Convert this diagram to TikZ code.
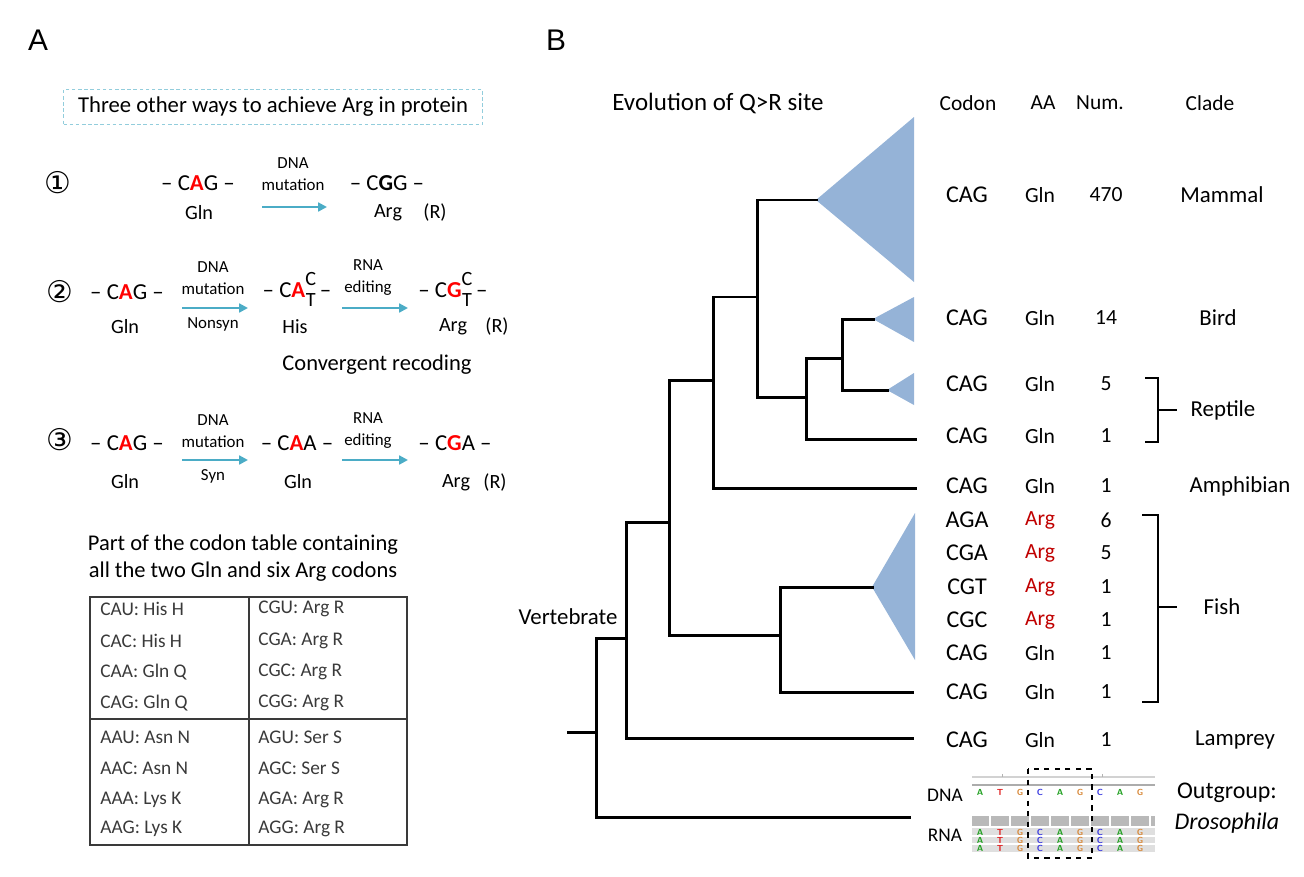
\documentclass[tikz,border=0pt]{standalone}
\usepackage{fontspec}
\setmainfont{Carlito}
\newfontfamily\circfont{DejaVu Sans}
\newfontfamily\panelfont{Liberation Sans}
\usetikzlibrary{arrows.meta}

\definecolor{triblue}{HTML}{95B3D7}
\definecolor{arrteal}{HTML}{4BACC6}
\definecolor{boxteal}{HTML}{92CDDC}
\definecolor{argred}{HTML}{C00000}
\definecolor{tabgray}{HTML}{3A3A3A}
\definecolor{baseA}{HTML}{22A022}
\definecolor{baseT}{HTML}{E02020}
\definecolor{baseG}{HTML}{D8893A}
\definecolor{baseC}{HTML}{3A3AE0}

\newcommand{\redA}{\textcolor{red}{\textbf{A}}}
\newcommand{\redG}{\textcolor{red}{\textbf{G}}}
\newcommand{\stackCT}{{\fontsize{11.5}{11.5}\selectfont\begin{tabular}{@{}c@{}}C\\T\end{tabular}}}

\tikzset{
  panel/.style={font=\panelfont\fontsize{17}{17}\selectfont},
  circnum/.style={font=\circfont\fontsize{17}{17}\selectfont},
  codon/.style={font=\fontsize{13}{13}\selectfont, inner sep=0pt},
  aa/.style={font=\fontsize{11.5}{12}\selectfont, inner sep=0pt},
  how/.style={font=\fontsize{9.6}{12.5}\selectfont, align=center, inner sep=0pt},
  mutarrow/.style={draw=arrteal, line width=1.2pt, -{Triangle[length=5pt,width=5pt]}},
  tabtext/.style={font=\fontsize{11}{12}\selectfont, text=tabgray, anchor=west, inner sep=0pt},
  tabline/.style={draw=tabgray, line width=0.8pt},
  branch/.style={line width=1.7pt, line cap=rect},
  tip/.style={fill=triblue, draw=none},
  codcell/.style={font=\fontsize{13.7}{14}\selectfont, inner sep=0pt},
  cell/.style={font=\fontsize{12.3}{13}\selectfont, inner sep=0pt},
  head/.style={font=\fontsize{12.2}{13}\selectfont, inner sep=0pt},
  clade/.style={font=\fontsize{13}{14}\selectfont, inner sep=0pt},
  brace/.style={line width=0.9pt},
  base/.style={font=\sffamily\bfseries\fontsize{5}{5}\selectfont, inner sep=0pt},
}

\begin{document}
\begin{tikzpicture}[x=0.02cm, y=-0.02cm]
\useasboundingbox (0,0) rectangle (1304,876);

% ---------- panel A ----------
\node[panel] (labA) at (38,40) {A};
\node[draw=boxteal, dash pattern=on 2pt off 1.5pt, line width=0.6pt,
      minimum width=8.38cm, minimum height=0.7cm, font=\fontsize{12.9}{13}\selectfont]
      (ways) at (273,107) {Three other ways to achieve Arg in protein};

% way 1
\node[circnum] (n1) at (58,183) {①};
\node[codon] (c1a) at (198,183) {-- C\redA G --};
\node[aa] (g1a) at (199,213) {Gln};
\node[how] (m1) at (293,174) {DNA\\mutation};
\coordinate (a1s) at (262,207);
\coordinate (a1e) at (327,207);
\draw[mutarrow] (a1s) -- (a1e);
\node[codon] (c1b) at (387,183) {-- C\textbf{G}G --};
\node[aa] (g1b) at (388,213) {Arg};
\node[aa] (r1) at (435,213) {(R)};

% way 2
\node[circnum] (n2) at (60,292) {②};
\node[codon] (c2a) at (127,292) {-- C\redA G --};
\node[aa] (g2a) at (125,327) {Gln};
\node[how] (m2) at (213,278) {DNA\\mutation};
\node[how] (ns2) at (213,324) {Nonsyn};
\coordinate (a2s) at (182,308);
\coordinate (a2e) at (248,308);
\draw[mutarrow] (a2s) -- (a2e);
\node[codon] (c2b) at (297,292) {-- C\redA\stackCT\,--};
\node[aa] (g2b) at (295,327) {His};
\node[how] (e2) at (368,278) {RNA\\editing};
\coordinate (b2s) at (342,308);
\coordinate (b2e) at (408,308);
\draw[mutarrow] (b2s) -- (b2e);
\node[codon] (c2c) at (453,292) {-- C\redG\stackCT\,--};
\node[aa] (g2c) at (453,327) {Arg};
\node[aa] (r2) at (497,327) {(R)};
\node[font=\fontsize{12.8}{13}\selectfont] (conv) at (377,365) {Convergent recoding};

% way 3
\node[circnum] (n3) at (60,440) {③};
\node[codon] (c3a) at (127,443) {-- C\redA G --};
\node[aa] (g3a) at (125,482) {Gln};
\node[how] (m3) at (213,431) {DNA\\mutation};
\node[how] (s3) at (213,476) {Syn};
\coordinate (a3s) at (182,460);
\coordinate (a3e) at (248,460);
\draw[mutarrow] (a3s) -- (a3e);
\node[codon] (c3b) at (297,443) {-- C\redA A --};
\node[aa] (g3b) at (298,482) {Gln};
\node[how] (e3) at (368,431) {RNA\\editing};
\coordinate (b3s) at (342,460);
\coordinate (b3e) at (408,460);
\draw[mutarrow] (b3s) -- (b3e);
\node[codon] (c3c) at (455,443) {-- C\redG A --};
\node[aa] (g3c) at (456,483) {Arg};
\node[aa] (r3) at (495,483) {(R)};

% codon table
\node[font=\fontsize{12.8}{15.3}\selectfont, align=center] (tabtitle) at (243,558)
  {Part of the codon table containing\\all the two Gln and six Arg codons};
\draw[tabline] (90,597) rectangle (407,845);
\draw[tabline] (249,597) -- (249,845);
\draw[tabline] (90,719) -- (407,719);
\foreach \y/\l/\r [count=\i] in {609/CAU: His H/CGU: Arg R, 641/CAC: His H/CGA: Arg R,
    672/CAA: Gln Q/CGC: Arg R, 703/CAG: Gln Q/CGG: Arg R, 737/AAU: Asn N/AGU: Ser S,
    768/AAC: Asn N/AGC: Ser S, 800/AAA: Lys K/AGA: Arg R, 829/AAG: Lys K/AGG: Arg R} {
  \node[tabtext] (tl\i) at (100,\y) {\l};
  \node[tabtext] (tr\i) at (258,\y) {\r};
}

% ---------- panel B ----------
\node[panel] (labB) at (556,40) {B};
\node[font=\fontsize{14.2}{15}\selectfont] (evo) at (718,103) {Evolution of Q>R site};
\node[head] (hcod) at (968,103) {Codon};
\node[head] (haa) at (1043,103) {AA};
\node[head] (hnum) at (1100,103) {Num.};
\node[head] (hcla) at (1210,103) {Clade};

% tree nodes
\coordinate (root) at (568,732);
\coordinate (v1) at (596,732);
\coordinate (v2) at (626,638);
\coordinate (v3) at (669,522);
\coordinate (v4) at (713,380);
\coordinate (v5) at (757,297);
\coordinate (v6) at (806,397);
\coordinate (v7) at (842,358);
\coordinate (v8) at (780,635);
\coordinate (mam) at (816,200);
\coordinate (bird) at (873,319);
\coordinate (rep) at (887,390);
\coordinate (rep2) at (915,439);
\coordinate (amph) at (915,488);
\coordinate (fish) at (872,587);
\coordinate (fish2) at (912,692);
\coordinate (lamp) at (912,738);
\coordinate (out) at (909,817);

\fill[tip] (mam) -- (914,117) -- (914,282) -- cycle;
\fill[tip] (bird) -- (914,297) -- (914,342) -- cycle;
\fill[tip] (rep) -- (914,373) -- (914,405) -- cycle;
\fill[tip] (fish) -- (915,513) -- (915,660) -- cycle;

\draw[branch] (root) -- (v1);
\foreach \p/\c in {v1/v2, v1/out, v2/v3, v2/lamp, v3/v4, v3/v8, v4/v5, v4/amph,
    v5/mam, v5/v6, v6/v7, v6/rep2, v7/bird, v7/rep, v8/fish, v8/fish2}
  \draw[branch] (\p) |- (\c);

\node[clade] (vert) at (568,617) {Vertebrate};

% table beside the tree
\foreach \y/\cod/\num in {195/CAG/470, 318/CAG/14, 384/CAG/5, 436/CAG/1, 486/CAG/1,
    653/CAG/1, 692/CAG/1, 740/CAG/1} {
  \node[codcell] (cod\y) at (967,\y) {\cod};
  \node[cell] (aa\y) at (1040,\y) {Gln};
  \node[cell] (num\y) at (1106,\y) {\num};
}
\foreach \y/\cod/\num in {520/AGA/6, 553/CGA/5, 587/CGT/1, 620/CGC/1} {
  \node[codcell] (cod\y) at (967,\y) {\cod};
  \node[cell, text=argred] (aa\y) at (1040,\y) {Arg};
  \node[cell] (num\y) at (1106,\y) {\num};
}

\node[clade] (cmam) at (1222,195) {Mammal};
\node[clade] (cbird) at (1218,318) {Bird};
\node[clade] (crep) at (1223,410) {Reptile};
\node[clade] (camph) at (1240,486) {Amphibian};
\node[clade] (cfish) at (1222,607) {Fish};
\node[clade] (clamp) at (1235,740) {Lamprey};

\coordinate (reptick) at (1177,410);
\coordinate (fishtick) at (1177,607);
\draw[brace] (1145,378) -- (1158,378) -- (1158,442) -- (1145,442);
\draw[brace] (1158,410) -- (reptick);
\draw[brace] (1142,515) -- (1158,515) -- (1158,702) -- (1142,702);
\draw[brace] (1158,607) -- (fishtick);

% DNA / RNA reads of the outgroup
\node[font=\fontsize{11}{11}\selectfont] (dna) at (945,795) {DNA};
\node[font=\fontsize{11}{11}\selectfont] (rna) at (945,835) {RNA};
\draw[gray!35, line width=0.6pt] (972,777) -- (1155,777);
\draw[gray!65, line width=1pt] (972,785) -- (1155,785);
\draw[gray!60, line width=0.4pt] (1002,774) -- (1002,777) (1102,774) -- (1102,777);
\fill[gray!55] (972,816) rectangle (1155,826);
\foreach \x in {990,1010,...,1150} \draw[white, line width=0.6pt] (\x,816) -- (\x,826);
\fill[gray!25] (972,828) rectangle (1155,852);
\draw[white, line width=0.6pt] (972,836) -- (1155,836) (972,844) -- (1155,844);
\foreach \b/\col [count=\k] in {A/baseA, T/baseT, G/baseG, C/baseC, A/baseA, G/baseG, C/baseC, A/baseA, G/baseG} {
  \node[base, text=\col] (d\k) at (960+20*\k,792) {\b};
  \foreach \yy in {832,840,848}
    \node[base, text=\col] at (960+20*\k,\yy) {\b};
}
\draw[dashed, line width=1pt] (1028,769) rectangle (1092,858);

\node[font=\fontsize{13.6}{14}\selectfont] (outg) at (1227,793) {Outgroup:};
\node[font=\fontsize{13.6}{14}\selectfont\itshape] (dros) at (1227,823) {Drosophila};
\end{tikzpicture}
\end{document}
